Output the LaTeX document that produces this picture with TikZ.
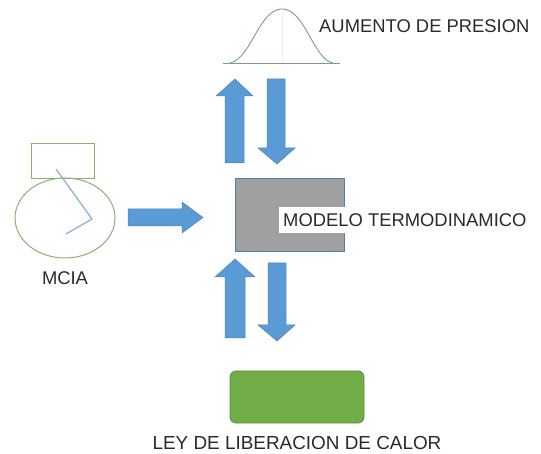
\documentclass[tikz,border=0pt]{standalone}
\usepackage{fontspec}
\usetikzlibrary{shapes.geometric}
\setmainfont{Liberation Sans}
\definecolor{arrowblue}{HTML}{5B9BD5}
\definecolor{arrowedge}{HTML}{4A83B8}
\definecolor{engine}{HTML}{8DAE72}
\definecolor{rod}{HTML}{85B0CC}
\definecolor{modelgrey}{HTML}{A0A0A0}
\definecolor{modeledge}{HTML}{4F7FA8}
\definecolor{heatgreen}{HTML}{70AD47}
\definecolor{heatedge}{HTML}{5F8A48}
\definecolor{bell}{HTML}{7F95A3}
\definecolor{labeltext}{HTML}{2A2A2A}
\tikzset{
  x=1pt,y=-1pt,
  blockarrow/.style={fill=arrowblue,draw=arrowedge,line width=0.5pt,line join=miter},
  label/.style={inner sep=0pt,text=labeltext,font=\fontsize{18.4}{20}\selectfont},
}
\begin{document}
\begin{tikzpicture}
\useasboundingbox (0,0) rectangle (541,454);
% engine
\node[draw=engine,line width=1pt,minimum width=63pt,minimum height=35pt,inner sep=0pt] (cyl) at (62.5,161.5) {};
\node[draw=engine,line width=1pt,ellipse,minimum width=100pt,minimum height=80pt,inner sep=0pt] (crank) at (65,218) {};
\coordinate (piston) at (56,169);
\coordinate (pin) at (92,219);
\coordinate (crankend) at (66,234);
\draw[rod,line width=1.2pt] (piston) -- (pin) -- (crankend);
\node[label] (mcia) at (65,278) {MCIA};
% right arrow
\draw[blockarrow] (128,209) -- (182,209) -- (182,202) -- (203,217.5) -- (182,233) -- (182,226) -- (128,226) -- cycle;
% bell curve
\coordinate (baseL) at (223,63);
\coordinate (baseR) at (340,63);
\coordinate (peak) at (282,9);
\draw[bell,line width=0.6pt] (baseL) -- (baseR);
\draw[bell,line width=0.9pt] (230,63) .. controls (251,59) and (259,9) .. (peak) .. controls (305,9) and (313,59) .. (333,63);
\draw[bell!15,line width=0.3pt] (peak) -- (282,63);
\node[label,anchor=west] (press) at (319,26) {AUMENTO DE PRESION};
% upper arrows
\draw[blockarrow] (225,163) -- (225,96) -- (216,96) -- (235,79) -- (253,96) -- (244,96) -- (244,163) -- cycle;
\draw[blockarrow] (267,79) -- (285,79) -- (285,148) -- (295,148) -- (277,164) -- (258,148) -- (267,148) -- cycle;
% model
\node[fill=modelgrey,draw=modeledge,line width=0.8pt,minimum width=109pt,minimum height=73pt,inner sep=0pt] (model) at (289.5,214.5) {};
\node[label,anchor=west,fill=white,inner xsep=4pt,minimum height=26pt] (modeltext) at (279,220) {MODELO TERMODINAMICO};
% lower arrows
\draw[blockarrow] (225,338) -- (225,277) -- (215,277) -- (235,259) -- (255,277) -- (245,277) -- (245,338) -- cycle;
\draw[blockarrow] (268,263) -- (286,263) -- (286,325) -- (295,325) -- (277,341) -- (258,325) -- (268,325) -- cycle;
% heat law
\node[fill=heatgreen,draw=heatedge,line width=0.8pt,rounded corners=6pt,minimum width=134pt,minimum height=52pt,inner sep=0pt] (heat) at (297,397) {};
\node[label,font=\fontsize{18.9}{20}\selectfont] (heattext) at (297,443) {LEY DE LIBERACION DE CALOR};
\end{tikzpicture}
\end{document}
